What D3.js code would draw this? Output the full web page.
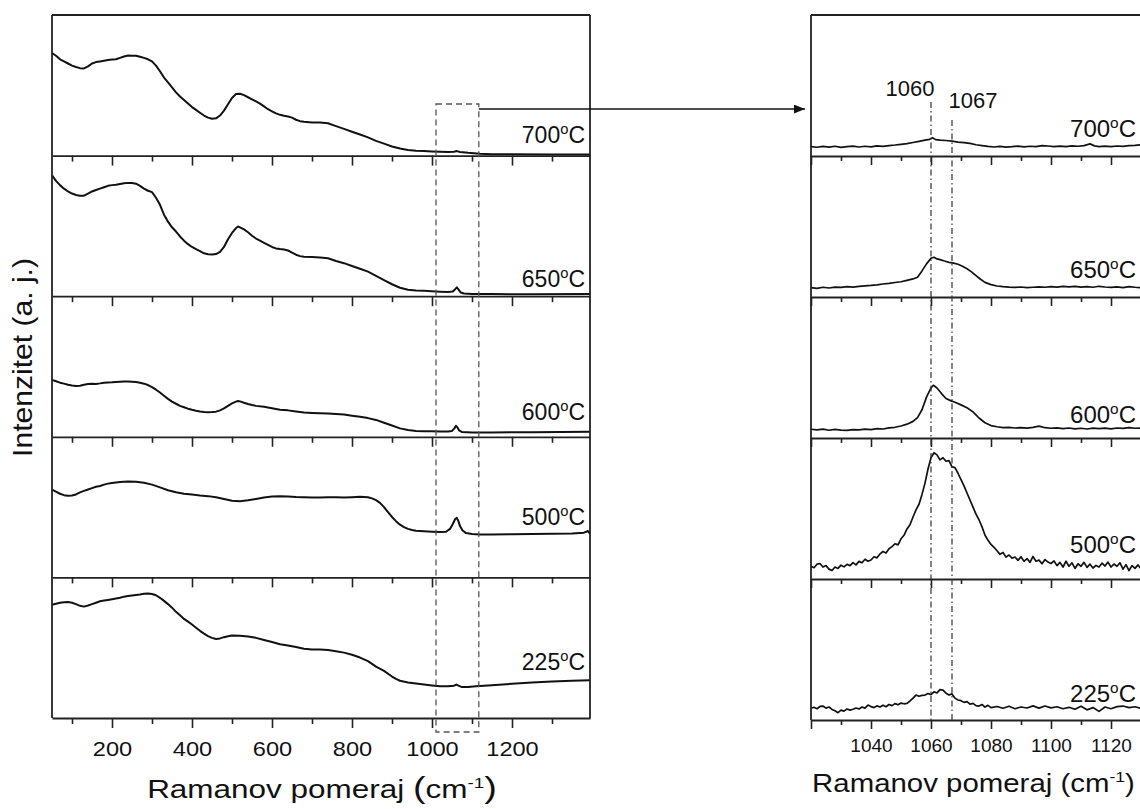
<!DOCTYPE html>
<html><head><meta charset="utf-8">
<script src="https://cdn.jsdelivr.net/npm/d3@7"></script>
<style>
body{margin:0;background:#fff}
svg{display:block}
text{font-family:"Liberation Sans",Arial,Helvetica,sans-serif;fill:#111}
</style>
</head><body>
<svg id="chart" width="1140" height="809"></svg>
<script>
// ---------------- DATA ----------------
const temps = ["700", "650", "600", "500", "225"];

// Wide range spectra: [Raman shift (cm-1), intensity (a.u., 0-100 per panel)]
const wide700 = [[50,73],[60,71],[70,68.5],[80,67],[90,65.5],[100,64],[110,63],[120,62.2],[130,62],[140,63.5],[150,65.5],[160,66.5],[170,67],[180,67.5],[190,68],[200,68.3],[210,68.5],[220,69.5],[230,70.5],[240,71.2],[250,71],[260,71],[270,70.3],[280,69.5],[290,68.5],[300,67],[310,64],[320,60],[330,55.5],[340,52],[350,48.5],[360,45],[370,42],[380,39.5],[390,37],[400,34.5],[410,32.5],[420,30.5],[430,28.5],[440,27],[450,26.2],[460,26.5],[470,28.5],[480,32],[490,36.5],[500,41],[510,43.8],[520,44],[530,43],[540,41.5],[550,40],[560,38.5],[570,37],[580,35],[590,33],[600,31.5],[610,30],[620,29],[630,28.3],[640,27.8],[650,27],[660,25.5],[670,24.5],[680,24],[700,23.5],[720,23.5],[740,23],[760,21],[780,19],[800,17],[820,15],[840,13],[860,10.5],[880,8.5],[900,6.5],[920,5],[940,4],[960,3.5],[980,3.2],[1000,3],[1020,2.8],[1040,2.6],[1055,2.8],[1062,3.2],[1070,2.6],[1090,2],[1120,1.3],[1150,1],[1200,0.9],[1300,0.8],[1395,0.8]];
const wide650 = [[50,86],[60,82],[70,79],[80,76.5],[90,74.5],[100,73],[110,72],[120,71.5],[130,71.5],[140,73],[150,74.5],[160,75.5],[170,76.5],[180,77.5],[190,78.5],[200,79],[210,79.2],[220,79.8],[230,80.3],[240,80.6],[250,80.5],[260,80],[270,78.5],[280,76.5],[290,75],[300,74],[310,70],[320,65],[330,58],[340,53],[350,49],[360,46],[370,42.5],[380,39.5],[390,37],[400,35],[410,33.5],[420,32],[430,30.5],[440,29.8],[450,29.6],[460,30],[470,31.5],[480,35],[490,40.5],[500,45],[510,48.5],[515,49.6],[520,49],[530,47.5],[540,45.5],[550,43],[560,41],[570,39.5],[580,38],[590,36.5],[600,35],[610,34],[620,33.5],[630,33.2],[640,32.5],[650,31],[660,29.5],[670,28.5],[680,28],[700,27.8],[720,27.5],[740,27],[760,25],[780,23.5],[800,21.5],[820,19.5],[840,17.5],[860,14.5],[880,11.5],[900,8.5],[920,6],[940,4.6],[960,4.1],[980,3.8],[1000,3.5],[1020,3.2],[1040,3],[1052,3.3],[1058,5],[1062,6.3],[1066,4.8],[1072,2.6],[1080,1.9],[1100,1.6],[1150,1.5],[1250,1.4],[1395,1.5]];
const wide600 = [[50,40.5],[60,39.5],[70,38.5],[80,37.8],[90,37],[100,36.5],[110,36.2],[120,36.3],[130,37],[140,37.5],[150,37.8],[160,37.6],[170,38],[180,38.5],[190,38.7],[200,38.8],[210,39],[220,39.2],[230,39.3],[240,39.4],[250,39.2],[260,38.9],[270,38.4],[280,37.8],[290,36.8],[300,35.3],[310,33.5],[320,31.5],[330,29.2],[340,27],[350,25],[360,23.5],[370,22],[380,21],[390,20],[400,19.2],[410,18.5],[420,18],[430,17.6],[440,17.5],[450,17.6],[460,17.9],[470,18.8],[480,20.2],[490,22],[500,23.8],[510,25],[515,25.5],[520,25.2],[530,24.2],[540,23.3],[550,22.6],[560,22],[580,21.3],[600,20.3],[620,19.3],[640,18.8],[660,18],[680,17.3],[700,17],[720,16.8],[740,16.5],[760,16.2],[780,15.8],[800,15],[820,14.2],[840,13.3],[860,12],[880,10],[900,8],[920,6],[940,4.8],[960,4.2],[980,4],[1000,3.9],[1020,3.8],[1040,3.8],[1050,4.2],[1056,6],[1060,7.8],[1064,6.5],[1068,4.5],[1075,3.4],[1100,3],[1150,3.1],[1250,3.3],[1395,3.6]];
const wide500 = [[50,62.5],[60,61],[70,59.5],[80,58.5],[90,58],[100,58.2],[110,59],[120,60.5],[130,61.5],[140,62.5],[150,63.5],[160,64.5],[170,65],[180,66],[190,66.7],[200,67.2],[220,67.8],[240,68.2],[260,68],[280,67.3],[300,66],[320,64],[340,62],[360,60.5],[380,59.5],[400,59],[420,58.3],[440,57.8],[460,57],[480,55.8],[500,54.5],[520,54.2],[540,54.8],[560,55.8],[580,56.8],[600,57.5],[620,57.8],[640,57.6],[660,57.2],[680,57],[700,56.8],[720,56.8],[740,57],[760,57],[780,56.8],[800,57],[820,57.3],[840,57],[850,56.2],[860,55],[870,53],[880,50],[890,46.5],[900,43],[910,40],[920,37.5],[930,35.8],[940,34.5],[950,33.7],[960,33.2],[980,32.8],[1000,32.5],[1020,32.3],[1035,32.5],[1045,34.5],[1052,38],[1058,41.5],[1062,42.3],[1066,40],[1070,36.5],[1076,33.5],[1085,31.5],[1100,30.8],[1120,30.5],[1150,30.6],[1200,30.7],[1250,30.8],[1300,31],[1350,31.3],[1380,31.8],[1390,33],[1395,31]];
const wide225 = [[50,80.5],[60,81.3],[70,82],[80,82.4],[90,82.5],[100,82],[110,81],[120,79.8],[130,79.2],[140,80],[150,81],[160,82],[170,83],[180,83.5],[190,84],[200,84.5],[210,85],[220,85.5],[230,86.3],[240,86.8],[250,87.2],[260,87.5],[270,87.8],[280,88.3],[290,88.5],[300,88.2],[310,87.3],[320,85.5],[330,83.3],[340,81],[350,78.5],[360,75.5],[370,73],[380,70.5],[390,68.5],[400,66.5],[410,64.2],[420,62],[430,60],[440,58.2],[450,57],[460,56.2],[470,56.6],[480,57.5],[490,58.2],[500,58.6],[520,58.5],[540,58],[560,57],[580,55.5],[600,54],[620,52.5],[640,51.5],[660,50.5],[680,49.3],[700,48.8],[720,48.8],[740,48.3],[760,47.5],[780,46.5],[800,45],[820,43],[840,40.5],[860,36.5],[880,33.5],[900,29.5],[910,27.8],[920,26.5],[940,25.3],[960,24.5],[980,23.8],[1000,23.2],[1020,22.6],[1040,22.5],[1055,23],[1061,23.8],[1066,23],[1075,22],[1090,22],[1110,22.6],[1150,23.3],[1200,24.3],[1250,25.3],[1300,26],[1350,26.5],[1395,26.8]];

// Zoomed spectra (1020-1130 cm-1)
const zoom700 = [[1020,6.6],[1022,6.2],[1024,6.8],[1026,6.3],[1028,6.9],[1030,6.1],[1032,6.6],[1034,7],[1036,6.4],[1038,6.9],[1040,6.5],[1042,7.2],[1044,6.8],[1046,7.4],[1048,7.8],[1050,8.3],[1052,8.8],[1054,9.6],[1056,10.4],[1058,11.2],[1059.5,11.8],[1060.5,13],[1061.5,11.6],[1063,11.2],[1065,11],[1067,10.5],[1069,9.8],[1071,9.5],[1073,8.9],[1075,8],[1077,7.4],[1079,6.8],[1081,6.4],[1083,6.8],[1085,6.3],[1087,6.6],[1089,7],[1091,6.5],[1093,6.9],[1095,6.6],[1097,7.3],[1099,7.1],[1101,6.7],[1103,7],[1105,6.6],[1107,7.2],[1109,6.9],[1111,7.4],[1113,8.6],[1114.5,7.2],[1116,6.7],[1118,7],[1120,6.6],[1122,7.1],[1124,6.8],[1126,7.3],[1128,7.6],[1130,8]];
const zoom650 = [[1020,6.6],[1022,6.1],[1024,6.9],[1026,6.4],[1028,7],[1030,6.8],[1032,7.3],[1034,7],[1036,7.6],[1038,7.9],[1040,8.2],[1042,8.6],[1044,9.2],[1046,9.7],[1048,10.3],[1050,10.8],[1052,11.8],[1054,12.8],[1055.5,14],[1057,18.5],[1058.5,23.5],[1060,27.5],[1061,28.2],[1062,27],[1063,26.5],[1064.5,25.5],[1066,24.6],[1067.5,24],[1069,23.2],[1070.5,21.8],[1072,20],[1073.5,17.8],[1075,15.2],[1076.5,12.6],[1078,10.4],[1080,8.8],[1082,7.8],[1084,7.3],[1086,7],[1088,6.8],[1090,7.1],[1092,6.6],[1094,6.9],[1096,7.2],[1098,6.9],[1100,7.3],[1102,7],[1104,7.5],[1106,7.2],[1108,7.6],[1110,7],[1112,7.3],[1114,6.9],[1116,7.6],[1118,7.1],[1120,6.8],[1122,7.2],[1124,6.6],[1126,7.4],[1128,6.9],[1130,6.6]];
const zoom600 = [[1020,6.2],[1022,5.8],[1024,6.3],[1026,5.5],[1028,6.1],[1030,5.6],[1032,5.4],[1034,6],[1036,5.7],[1038,6.3],[1040,5.9],[1042,6.6],[1044,6.4],[1046,7.2],[1048,7.6],[1050,8.5],[1052,9.8],[1054,11.8],[1055.5,14.5],[1057,20],[1058.5,29],[1060,35.5],[1060.8,37.4],[1062,35.5],[1063.5,31.5],[1065,28],[1066.5,26.5],[1068,25.3],[1070,23.5],[1072,21.5],[1074,18.5],[1076,14.2],[1078,10.8],[1080,8.8],[1082,8],[1084,7.4],[1086,7.6],[1088,7.1],[1090,7.4],[1092,7],[1094,7.5],[1096,8.4],[1098,7.3],[1100,6.9],[1102,7.2],[1104,6.7],[1106,7.1],[1108,6.5],[1110,6.9],[1112,6.4],[1114,7],[1116,6.6],[1118,7],[1120,6.5],[1122,7.1],[1124,6.8],[1126,7.3],[1128,6.9],[1130,7]];
const zoom500 = [[1020,9],[1021,8],[1022,10.5],[1023,11],[1024,8.5],[1025,9.5],[1026,7],[1027,6],[1028,8.5],[1029,7.5],[1030,9.8],[1031,8.6],[1032,10.4],[1033,9.5],[1034,11.6],[1035,10],[1036,12.5],[1037,11.5],[1038,14],[1039,12.6],[1040,13.5],[1041,15.8],[1042,15],[1043,17.8],[1044,19.5],[1045,18.5],[1046,21.5],[1047,23],[1048,25],[1049,24.2],[1050,28.5],[1051,31],[1052,35.5],[1053,38.5],[1054,44],[1055,49],[1056,53],[1057,60],[1058,68],[1059,78],[1060,86],[1061,89.5],[1062,88],[1063,84.5],[1064,86],[1065,83.5],[1066,84],[1067,79.5],[1068,79],[1069,75],[1070,70.5],[1071,66],[1072,61],[1073,56],[1074,51],[1075,46],[1076,42],[1077,37],[1078,31],[1079,27.5],[1080,24.5],[1081,22.5],[1082,20],[1083,17.5],[1084,18.8],[1085,15.5],[1086,17],[1087,14.8],[1088,15.6],[1089,13.2],[1090,15.8],[1091,12.5],[1092,14.5],[1093,11.8],[1094,16],[1095,12.6],[1096,13.4],[1097,10.8],[1098,13.8],[1099,12],[1100,11],[1101,12.8],[1102,9.5],[1103,11.8],[1104,8.5],[1105,12.6],[1106,9],[1107,11.5],[1108,7.5],[1109,10.8],[1110,9],[1111,11.8],[1112,8.2],[1113,10.5],[1114,7.8],[1115,9.6],[1116,8.5],[1117,11.2],[1118,9.2],[1119,12],[1120,8.5],[1121,10.6],[1122,9],[1123,11.5],[1124,7],[1125,10.2],[1126,6],[1127,9.5],[1128,7.5],[1129,10],[1130,7.2]];
const zoom225 = [[1020,8.3],[1021,9],[1022,8],[1023,9.6],[1024,9.9],[1025,8.4],[1026,9.2],[1027,7.5],[1028,6.5],[1029,5.2],[1030,7],[1031,6.3],[1032,7.8],[1033,7],[1034,7.6],[1035,8.5],[1036,7.8],[1037,9.2],[1038,8.4],[1039,10.6],[1040,9.5],[1041,8.8],[1042,10],[1043,9.2],[1044,10.5],[1045,9.4],[1046,11],[1047,10.2],[1048,11.6],[1049,10.8],[1050,12],[1051,11.5],[1052,11.8],[1053,13.5],[1054,15.5],[1055,17.7],[1056,16.8],[1057,17.5],[1058,17.7],[1059,18.8],[1060,18],[1061,20],[1062,19.2],[1063,21.5],[1064,21.2],[1065,19],[1066,17.7],[1067,18.5],[1068,15.5],[1069,14.2],[1070,13.7],[1071,12.5],[1072,13],[1073,11.2],[1074,11.8],[1075,10.2],[1076,9.9],[1077,11],[1078,9.2],[1079,10.4],[1080,8.8],[1082,9.6],[1084,8.3],[1086,9.8],[1088,8],[1090,9.2],[1092,8.5],[1094,10],[1096,8.4],[1098,9.9],[1100,8.6],[1102,9.4],[1104,8],[1106,9],[1108,7.6],[1110,9.8],[1112,7.2],[1114,8.8],[1116,6.1],[1118,9.2],[1120,8],[1122,9.5],[1124,9.9],[1126,8.8],[1128,9.4],[1130,8.3]];

const wideSeries = [wide700, wide650, wide600, wide500, wide225];
const zoomSeries = [zoom700, zoom650, zoom600, zoom500, zoom225];

const wideDomain = [50, 1395];
const wideMajorTicks = [200, 400, 600, 800, 1000, 1200];
const wideMinorTicks = [100, 300, 500, 700, 900, 1100, 1300];
const zoomDomain = [1020, 1130];
const zoomMajorTicks = [1020, 1040, 1060, 1080, 1100, 1120];
const zoomLabelTicks = [1040, 1060, 1080, 1100, 1120];
const zoomMinorTicks = [1030, 1050, 1070, 1090, 1110, 1130];
const peakPositions = [1060, 1067];
const peakLabels = ["1060", "1067"];
const zoomBox = [1010, 1117];
const xTitle = "Ramanov pomeraj ";
const yTitle = "Intenzitet (a. j.)";

// ---------------- LAYOUT ----------------
const svg = d3.select("#chart");
const L = {x0: 52, x1: 590, top: 15, bottom: 718};
const R = {x0: 811, x1: 1141, top: 15, bottom: 720};
const n = temps.length;
const lh = (L.bottom - L.top) / n, rh = (R.bottom - R.top) / n;
const xW = d3.scaleLinear().domain(wideDomain).range([L.x0, L.x1]);
const xZ = d3.scaleLinear().domain(zoomDomain).range([R.x0, R.x1]);
const lineColor = "#111", frameColor = "#222";

const leftLabelBase = [143, 286.5, 420, 525, 670];
const rightLabelBase = [136.7, 277.7, 422.7, 553, 701.7];

function tempLabel(g, x, y, t, fs) {
  const tx = g.append("text").attr("x", x).attr("y", y).attr("text-anchor", "end")
    .style("font-size", fs + "px");
  tx.append("tspan").text(t);
  tx.append("tspan").attr("dy", -fs * 0.38).style("font-size", (fs * 0.64) + "px").text("o");
  tx.append("tspan").attr("dy", fs * 0.38).text("C");
}

function drawPanels(P, h, x, series, majors, minors, labelTicks, majorLen, minorLen, tickFs, labelDy, lw, labelBases, labelX, labelFs) {
  const g = svg.append("g");
  series.forEach((data, i) => {
    const y0 = P.top + i * h, y1 = P.top + (i + 1) * h;
    const y = d3.scaleLinear().domain([0, 100]).range([y1, y0]);
    const line = d3.line().x(d => x(d[0])).y(d => y(d[1])).curve(d3.curveLinear);
    g.append("path").datum(data).attr("d", line).attr("fill", "none")
      .attr("stroke", lineColor).attr("stroke-width", lw).attr("stroke-linejoin", "round");
    const minorAxis = d3.axisBottom(x).tickValues(minors).tickSize(minorLen).tickFormat("").tickSizeOuter(0);
    const ga = g.append("g").attr("transform", `translate(0,${y1})`).call(minorAxis);
    ga.select(".domain").remove();
    ga.selectAll("line").attr("stroke", frameColor).attr("stroke-width", 1.6);
    const last = i === series.length - 1;
    const majorAxis = d3.axisBottom(x).tickValues(majors).tickSize(majorLen).tickSizeOuter(0)
      .tickFormat(d => (last && labelTicks.includes(d)) ? String(d) : "");
    const gm = g.append("g").attr("transform", `translate(0,${y1})`).call(majorAxis);
    gm.select(".domain").attr("stroke", frameColor).attr("stroke-width", 1.8);
    gm.selectAll("line").attr("stroke", frameColor).attr("stroke-width", 1.6);
    gm.selectAll("text").attr("y", labelDy).attr("dy", 0).attr("fill", "#111")
      .style("font-size", tickFs + "px").style("font-family", '"Liberation Sans",Arial,sans-serif');
    tempLabel(g, labelX, labelBases[i], temps[i], labelFs);
  });
  [[P.x0, P.x1, P.top, P.top], [P.x0, P.x0, P.top, P.bottom], [P.x1, P.x1, P.top, P.bottom]].forEach(s => {
    g.append("line").attr("x1", s[0]).attr("x2", s[1]).attr("y1", s[2]).attr("y2", s[3])
      .attr("stroke", frameColor).attr("stroke-width", 1.8);
  });
  return g;
}

const gL = drawPanels(L, lh, xW, wideSeries, wideMajorTicks, wideMinorTicks, wideMajorTicks, 10, 6, 20, 38, 2, leftLabelBase, 585, 23);
gL.selectAll(".tick text").attr("transform", "scale(1.18,1)");
const gR = drawPanels(R, rh, xZ, zoomSeries, zoomMajorTicks, zoomMinorTicks, zoomLabelTicks, 9, 5, 19, 32, 1.7, rightLabelBase, 1136, 24);

// peak markers (dash-dot)
const peakTops = [102, 120];
peakPositions.forEach((p, i) => {
  svg.append("line").attr("x1", xZ(p)).attr("x2", xZ(p)).attr("y1", peakTops[i]).attr("y2", R.bottom)
    .attr("stroke", "#333").attr("stroke-width", 1.2).attr("stroke-dasharray", "6,3,1.5,3");
});
svg.append("text").attr("x", xZ(peakPositions[0]) - 21).attr("y", 96).attr("text-anchor", "middle")
  .style("font-size", "22px").text(peakLabels[0]);
svg.append("text").attr("x", xZ(peakPositions[1]) + 21).attr("y", 107.5).attr("text-anchor", "middle")
  .style("font-size", "22px").text(peakLabels[1]);

// dashed zoom box on left panel
svg.append("rect").attr("x", xW(zoomBox[0])).attr("y", 104)
  .attr("width", xW(zoomBox[1]) - xW(zoomBox[0])).attr("height", 732 - 104)
  .attr("fill", "none").attr("stroke", "#555").attr("stroke-width", 1.3).attr("stroke-dasharray", "6,4");

// arrow
svg.append("defs").append("marker").attr("id", "arr").attr("viewBox", "0 0 10 8")
  .attr("refX", 10).attr("refY", 4).attr("markerWidth", 11).attr("markerHeight", 9)
  .attr("markerUnits", "userSpaceOnUse").attr("orient", "auto")
  .append("path").attr("d", "M0,0L10,4L0,8Z").attr("fill", "#111");
svg.append("line").attr("x1", xW(zoomBox[1])).attr("x2", 805).attr("y1", 109).attr("y2", 109)
  .attr("stroke", "#111").attr("stroke-width", 1.4).attr("marker-end", "url(#arr)");

// axis titles
function title(cx, cy, fs, pfs, target) {
  const g = svg.append("g");
  const t = g.append("text").attr("text-anchor", "middle").style("font-size", fs + "px");
  t.append("tspan").text(xTitle);
  t.append("tspan").style("font-size", pfs + "px").text("(");
  t.append("tspan").text("cm");
  t.append("tspan").attr("dy", -fs * 0.42).style("font-size", (fs * 0.6) + "px").text("-1");
  t.append("tspan").attr("dy", fs * 0.42).style("font-size", pfs + "px").text(")");
  const w = t.node().getBBox().width;
  g.attr("transform", `translate(${cx},${cy}) scale(${target / w},1)`);
}
title(322, 798, 25, 30, 350);
title(973.5, 792, 25, 25, 323);

const gy = svg.append("g");
const ty = gy.append("text").attr("text-anchor", "middle").style("font-size", "28px").text(yTitle);
const wy = ty.node().getBBox().width;
gy.attr("transform", `translate(31.5,357.5) rotate(-90) scale(${199 / wy},1)`);
</script>
</body></html>
